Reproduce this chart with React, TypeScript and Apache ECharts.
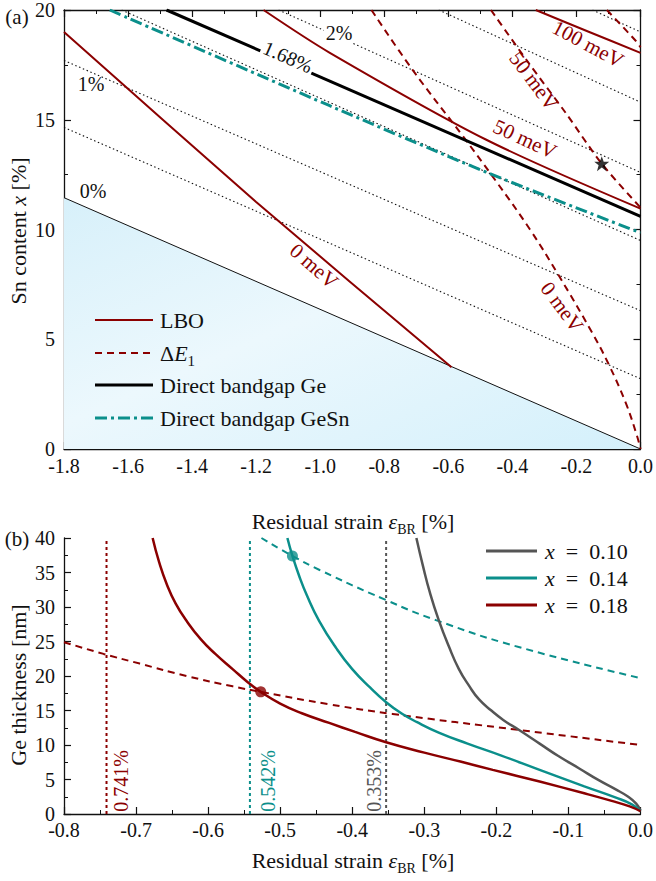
import React, { useEffect, useRef } from 'react';
import * as echarts from 'echarts';

const FONT = 'Liberation Serif, DejaVu Serif, serif';
const RED = '#8b0000';
const TEAL = '#0b8f8b';
const GRAY = '#555555';
const INK = '#111111';

// ---------- panel (a): Sn content vs residual strain ----------
const aStrain0 = [[-1.8, 11.45], [0, 0]];
const aContour05 = [[-1.8, 14.65], [0, 3.2]];
const aContour10 = [[-1.8, 17.7], [0, 6.3]];
const aContour15 = [[-1.62, 20], [0, 9.5]];
const aContour20 = [[-1.13, 20], [0, 12.6]];
const aContour25 = [[-0.63, 20], [0, 15.8]];
const aContour30 = [[-0.15, 20], [0, 19.0]];
const aDirectGe = [[-1.48, 20], [0, 10.6]];
const aDirectGeSn = [[-1.657, 20], [-0.972, 15.65], [-0.483, 12.62], [0, 9.85]];
const aLbo0 = [[-1.8, 19.0], [-1.2, 11.25], [-0.59, 3.72]];
const aLbo50 = [[-1.177, 20], [-0.97, 18.05], [-0.483, 14.1], [0, 10.95]];
const aLbo100 = [[-0.327, 20], [-0.16, 19.0], [0, 18.05]];
const aDE0 = [[-0.84, 20], [-0.713, 17.3], [-0.557, 14.3], [-0.451, 12.2], [-0.345, 10.0], [-0.255, 7.9], [-0.153, 5.35], [-0.099, 3.85], [-0.046, 2.1], [-0.012, 0.65], [0, 0]];
const aDE50 = [[-0.467, 20], [-0.35, 17.6], [-0.233, 15.3], [-0.121, 13.0], [0, 11.0]];
const aDE100 = [[-0.105, 20], [-0.015, 18.6], [0, 18.3]];
const aStar = [[-0.121, 13.0]];

// ---------- panel (b): Ge thickness vs residual strain ----------
const bX10 = [[-0.311, 40], [-0.302, 36], [-0.292, 32], [-0.28, 28.1], [-0.266, 24.3], [-0.252, 21.0], [-0.238, 18.6], [-0.224, 16.6], [-0.207, 15.0], [-0.19, 13.6], [-0.169, 12.2], [-0.14, 10.2], [-0.114, 8.4], [-0.085, 6.6], [-0.058, 4.9], [-0.035, 3.6], [-0.017, 2.5], [-0.006, 1.5], [0, 0.5]];
const bX14 = [[-0.49, 40], [-0.483, 37.4], [-0.474, 34.6], [-0.463, 31.7], [-0.446, 28.0], [-0.422, 24.0], [-0.4, 21.0], [-0.375, 18.3], [-0.353, 16.2], [-0.332, 14.6], [-0.31, 13.3], [-0.28, 11.8], [-0.24, 10.2], [-0.194, 8.5], [-0.14, 6.4], [-0.078, 4.0], [-0.035, 2.4], [-0.012, 1.4], [0, 0.4]];
const bX18 = [[-0.677, 40], [-0.668, 36.5], [-0.657, 33.2], [-0.645, 30.5], [-0.63, 28.0], [-0.61, 25.3], [-0.59, 23.2], [-0.566, 21.0], [-0.545, 19.1], [-0.527, 17.7], [-0.5, 16.0], [-0.47, 14.6], [-0.432, 13.2], [-0.396, 11.9], [-0.353, 10.4], [-0.3, 8.9], [-0.25, 7.6], [-0.205, 6.4], [-0.14, 4.7], [-0.078, 3.0], [-0.04, 1.9], [-0.015, 1.1], [0, 0.4]];
const bDE14 = [[-0.526, 40], [-0.483, 37.4], [-0.446, 35.4], [-0.353, 31.0], [-0.284, 28.1], [-0.169, 24.2], [0, 19.7]];
const bDE18 = [[-0.8, 24.9], [-0.745, 23.2], [-0.695, 21.8], [-0.63, 20.0], [-0.566, 18.5], [-0.527, 17.7], [-0.432, 15.9], [-0.344, 14.5], [-0.17, 12.2], [0, 10.0]];
const bCritical = [-0.741, -0.542, -0.353];
const bCriticalLabels = ['0.741%', '0.542%', '0.353%'];
const bDotTeal = [[-0.483, 37.4]];
const bDotRed = [[-0.527, 17.7]];

const STAR = 'path://M12,1 L15,9 L23.5,9 L16.8,14.2 L19.3,22.5 L12,17.4 L4.7,22.5 L7.2,14.2 L0.5,9 L9,9 Z';

function axis(gridIndex: number, min: number, max: number, interval: number, position: string, labels: boolean, margin: number) {
  return {
    type: 'value', gridIndex, min, max, interval, position,
    axisLine: { show: true, onZero: false, lineStyle: { color: INK, width: 1.3 } },
    axisTick: { show: true, inside: true, length: 7, lineStyle: { color: INK, width: 1.2 } },
    minorTick: { show: true, splitNumber: 2, length: 4, lineStyle: { color: INK, width: 1 } },
    splitLine: { show: false },
    minorSplitLine: { show: false },
    axisLabel: {
      show: labels, color: INK, fontSize: 20, fontFamily: FONT, margin, lineHeight: 15,
      formatter: (v: number) => (interval < 1 ? v.toFixed(1) : String(Math.round(v))),
    },
  };
}

function line(data: number[][], xi: number, yi: number, color: string, width: number, type: any, smooth: number | boolean = false) {
  return {
    type: 'line', xAxisIndex: xi, yAxisIndex: yi, data, symbol: 'none', smooth,
    lineStyle: { color, width, type, cap: 'butt' }, silent: true, z: 3,
  };
}

function txt(text: string, x: number, y: number, o: any = {}) {
  return {
    type: 'text', x, y, rotation: o.rot || 0, z: 100, silent: true,
    style: {
      text, fill: o.color || INK, fontSize: o.size || 20, fontFamily: FONT,
      fontStyle: o.italic ? 'italic' : 'normal',
      align: o.align || 'center', verticalAlign: 'middle',
      backgroundColor: o.bg, padding: o.pad, rich: o.rich, lineHeight: o.lh,
    },
  };
}

function legLine(x1: number, x2: number, y: number, color: string, width: number, dash?: number[]) {
  return {
    type: 'line', z: 100, silent: true,
    shape: { x1, y1: y, x2, y2: y },
    style: { stroke: color, lineWidth: width, lineDash: dash },
  };
}

export default function App() {
  const ref = useRef<HTMLDivElement>(null);
  useEffect(() => {
    const el = ref.current!;
    const chart = echarts.init(el, null, { renderer: 'svg' });

    const fill = new echarts.graphic.LinearGradient(0, 0, 1, 1, [
      { offset: 0, color: '#d7f0fa' },
      { offset: 0.45, color: '#ecf8fd' },
      { offset: 1, color: '#d4f0fb' },
    ]);

    const richTitle = {
      e: { fontStyle: 'italic', fontSize: 22, fontFamily: FONT, fill: INK, lineHeight: 30 },
      s: { fontSize: 14, fontFamily: FONT, fill: INK, verticalAlign: 'bottom', lineHeight: 14 },
    };
    const richX = {
      i: { fontStyle: 'italic', fontSize: 22, fontFamily: FONT, fill: INK },
    };

    const dotted = [1.5, 2.6];
    const series: any[] = [
      // panel (a)
      { ...line(aStrain0, 0, 0, INK, 1, 'solid'), areaStyle: { color: fill, opacity: 1 }, z: 1 },
      line(aContour05, 0, 0, INK, 1.1, dotted),
      line(aContour10, 0, 0, INK, 1.1, dotted),
      line(aContour15, 0, 0, INK, 1.1, dotted),
      line(aContour20, 0, 0, INK, 1.1, dotted),
      line(aContour25, 0, 0, INK, 1.1, dotted),
      line(aContour30, 0, 0, INK, 1.1, dotted),
      line(aLbo0, 0, 0, RED, 2, 'solid', 0.2),
      line(aLbo50, 0, 0, RED, 2, 'solid', 0.3),
      line(aLbo100, 0, 0, RED, 2, 'solid', 0.3),
      line(aDE0, 0, 0, RED, 2, [7, 5], 0.4),
      line(aDE50, 0, 0, RED, 2, [7, 5], 0.3),
      line(aDE100, 0, 0, RED, 2, [7, 5], 0.3),
      line(aDirectGe, 0, 0, '#000', 3, 'solid'),
      line(aDirectGeSn, 0, 0, TEAL, 3, [12, 4, 3, 4], 0.3),
      {
        type: 'scatter', xAxisIndex: 0, yAxisIndex: 0, data: aStar, symbol: STAR, symbolSize: 15,
        itemStyle: { color: '#000' }, silent: true, z: 5,
      },
      // panel (b)
      ...bCritical.map((x, i) => line([[x, 0], [x, 40]], 2, 2, [RED, TEAL, GRAY][i], 2, [3, 3])),
      line(bDE18, 2, 2, RED, 2, [7, 5], 0.5),
      line(bDE14, 2, 2, TEAL, 2, [7, 5], 0.5),
      line(bX10, 2, 2, GRAY, 2.5, 'solid', 0.5),
      line(bX14, 2, 2, TEAL, 2.5, 'solid', 0.5),
      line(bX18, 2, 2, RED, 2.5, 'solid', 0.5),
      {
        type: 'scatter', xAxisIndex: 2, yAxisIndex: 2, data: bDotTeal, symbol: 'circle', symbolSize: 11,
        itemStyle: { color: TEAL }, silent: true, z: 5,
      },
      {
        type: 'scatter', xAxisIndex: 2, yAxisIndex: 2, data: bDotRed, symbol: 'circle', symbolSize: 11,
        itemStyle: { color: RED }, silent: true, z: 5,
      },
    ];

    const labelX = [121, 268, 374];
    const labelColors = [RED, TEAL, GRAY];

    const graphics: any[] = [
      // panel labels
      txt('(a)', 17, 17, { size: 21 }),
      txt('(b)', 17, 539, { size: 21 }),
      // axis titles
      txt('Residual strain {e|ε}{s|BR} [%]', 353, 521, { size: 22, rich: richTitle, lh: 30 }),
      txt('Residual strain {e|ε}{s|BR} [%]', 353, 860, { size: 22, rich: richTitle, lh: 30 }),
      { ...txt('Sn content {i|x} [%]', 18, 231, { size: 22, rich: richX }), rotation: Math.PI / 2 },
      { ...txt('Ge thickness [nm]', 18, 685, { size: 22 }), rotation: Math.PI / 2 },
      // strain contour labels
      txt('0%', 93, 191, { size: 20 }),
      txt('1%', 91, 84, { size: 20 }),
      txt('2%', 339, 33, { size: 20, bg: '#fff', pad: [0, 2] }),
      txt('1.68%', 288, 57, { size: 20, rot: -0.41, bg: '#fff', pad: [0, 2] }),
      txt('100 meV', 588, 44, { size: 21, rot: -0.49, color: RED }),
      txt('50 meV', 525, 139, { size: 21, rot: -0.43, color: RED }),
      txt('50 meV', 534, 81, { size: 21, rot: -0.93, color: RED }),
      txt('0 meV', 562, 307, { size: 21, rot: -0.93, color: RED }),
      txt('0 meV', 314, 266, { size: 21, rot: -0.72, color: RED }),
      // legend (a)
      legLine(95, 153, 320, RED, 2),
      legLine(95, 153, 353, RED, 2, [7, 5]),
      legLine(95, 153, 385, '#000', 3),
      legLine(95, 153, 418, TEAL, 3, [12, 4, 3, 4]),
      txt('LBO', 160, 320, { size: 22, align: 'left' }),
      txt('Δ{i|E}{s|1}', 160, 353, {
        size: 22, align: 'left', lh: 30,
        rich: {
          i: { fontStyle: 'italic', fontSize: 22, fontFamily: FONT, fill: INK, lineHeight: 30 },
          s: { fontSize: 15, fontFamily: FONT, fill: INK, verticalAlign: 'bottom', lineHeight: 15 },
        },
      }),
      txt('Direct bandgap Ge', 160, 385, { size: 22, align: 'left' }),
      txt('Direct bandgap GeSn', 160, 418, { size: 22, align: 'left' }),
      // legend (b)
      legLine(486, 537, 551, GRAY, 3),
      legLine(486, 537, 578, TEAL, 3),
      legLine(486, 537, 605, RED, 3),
      txt('{i|x}\u2002=\u20020.10', 545, 551, { size: 22, align: 'left', rich: richX }),
      txt('{i|x}\u2002=\u20020.14', 545, 578, { size: 22, align: 'left', rich: richX }),
      txt('{i|x}\u2002=\u20020.18', 545, 605, { size: 22, align: 'left', rich: richX }),
      // critical strain labels
      ...bCriticalLabels.map((t, i) => ({ ...txt(t, labelX[i], 781, { size: 20, color: labelColors[i] }), rotation: Math.PI / 2 })),
    ];

    const option: any = {
      animation: false,
      backgroundColor: '#ffffff',
      grid: [
        { left: 64, top: 7, width: 578, height: 442, containLabel: false },
        { left: 64, top: 538, width: 578, height: 276, containLabel: false },
      ],
      xAxis: [
        axis(0, -1.8, 0, 0.2, 'bottom', true, 9),
        axis(0, -1.8, 0, 0.2, 'top', false, 6),
        axis(1, -0.8, 0, 0.1, 'bottom', true, 8),
      ],
      yAxis: [
        axis(0, 0, 20, 5, 'left', true, 9),
        axis(0, 0, 20, 5, 'right', false, 9),
        axis(1, 0, 40, 5, 'left', true, 9),
      ],
      series,
      graphic: { elements: graphics },
    };
    chart.setOption(option);
    return () => chart.dispose();
  }, []);
  return <div ref={ref} style={{ position: 'absolute', left: 0, top: 0, width: 656, height: 881 }} />;
}
